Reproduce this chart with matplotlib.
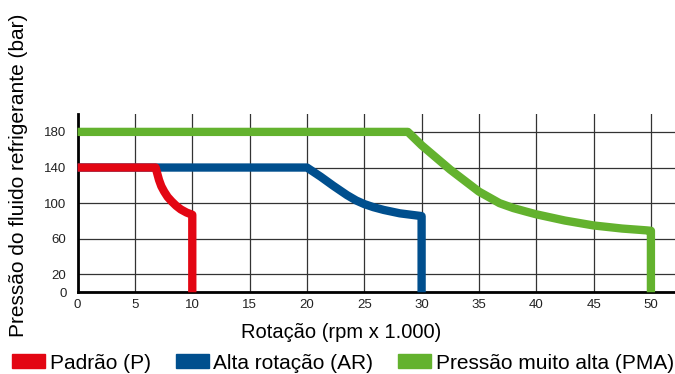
import matplotlib
matplotlib.use("Agg")
import matplotlib.pyplot as plt
from matplotlib.patches import Patch

plt.rcParams['font.family'] = ['Liberation Sans', 'DejaVu Sans']

# dados
p_x = [0, 6.8, 6.95, 7.1, 7.3, 7.55, 7.85, 8.2, 8.6, 9.0, 9.5, 10, 10]
p_y = [140, 140, 133, 126, 119, 113, 107, 102, 97, 93, 89.5, 87, 0]

ar_x = [0, 20, 21.2, 22.3, 23.5, 24.3, 25, 25.8, 26.7, 28.1, 30, 30]
ar_y = [140, 140, 129.7, 119.5, 109, 103, 99, 95.5, 92.4, 88.6, 85.5, 0]

pma_x = [0, 28.8, 30, 32.5, 35, 36.8, 38, 39.1, 40, 42.5, 45, 47.5, 49.6, 50, 50]
pma_y = [180, 180, 165, 137.6, 113, 100, 94.5, 90.6, 87.5, 80.5, 75, 71.5, 69.5, 69, 0]

labels = ['Padrão (P)', 'Alta rotação (AR)', 'Pressão muito alta (PMA)']
cores = ['#E30613', '#004F8E', '#63B22E']
x_ticks = [0, 5, 10, 15, 20, 25, 30, 35, 40, 45, 50]
y_ticks = [0, 20, 60, 100, 140, 180]

fig = plt.figure(figsize=(6.75, 3.74), dpi=100)
ax = fig.add_axes([0.115, 0.2185, 0.885, 0.4765])

ax.set_xlim(0, 52.1)
ax.set_ylim(0, 200)
ax.set_xticks(x_ticks)
ax.set_yticks(y_ticks)
ax.tick_params(length=0, labelsize=9.5, colors='#222222')
ax.tick_params(axis='y', pad=8)
ax.tick_params(axis='x', pad=5)
ax.grid(True, color='#333333', linewidth=0.9)
ax.set_axisbelow(True)

for s in ['top', 'right']:
    ax.spines[s].set_visible(False)
ax.spines['left'].set_linewidth(2)
ax.spines['bottom'].set_linewidth(2)

for xs, ys, c in [(pma_x, pma_y, cores[2]), (ar_x, ar_y, cores[1]), (p_x, p_y, cores[0])]:
    ax.plot(xs, ys, color=c, linewidth=6, solid_capstyle='butt',
            solid_joinstyle='round', clip_on=False, zorder=3)

fig.text(0.027, 0.532, 'Pressão do fluido refrigerante (bar)', rotation=90,
         ha='center', va='center', fontsize=15)
fig.text(0.505, 0.11, 'Rotação (rpm x 1.000)', ha='center', va='center', fontsize=14.5)

handles = [Patch(color=c) for c in cores]
fig.legend(handles, labels, loc='lower left', bbox_to_anchor=(0.018, 0.004),
           ncol=3, frameon=False, fontsize=15, handlelength=1.6, handleheight=0.63,
           handletextpad=0.2, columnspacing=1.2, borderpad=0, borderaxespad=0)

fig.savefig('out.png', dpi=100)
